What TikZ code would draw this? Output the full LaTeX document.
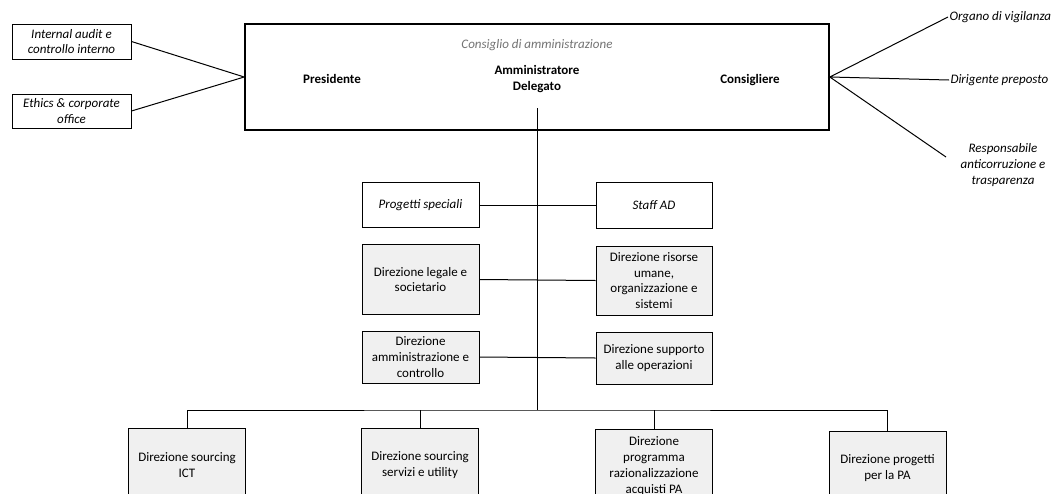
\documentclass[tikz,border=0pt]{standalone}
\usepackage{fontspec}
\setmainfont{Carlito}
\begin{document}
\begin{tikzpicture}[x=1pt, y=-1pt, line width=1pt,
    txt/.style={align=center, inner sep=1pt, font=\fontsize{13}{15.8}\selectfont},
    txtit/.style={txt, font=\fontsize{13}{15.8}\selectfont\itshape},
    txtbf/.style={txt, font=\fontsize{13}{15.8}\selectfont\bfseries},
    box/.style={txt, draw, minimum width=117pt},
    boxit/.style={txtit, draw, minimum width=117pt},
    dir/.style={box, fill=gray!12}
  ]
    \clip (0,0) rectangle (1054,493);
    \fill[white] (0,0) rectangle (1054,493);

    % board
    \node[draw, line width=1.6pt, minimum width=584pt, minimum height=106pt] (cda) at (537,77) {};
    \node[txtit, text=gray!90!black] (cdat) at (537,45) {Consiglio di amministrazione};
    \node[txtbf] (pres) at (332,79) {Presidente};
    \node[txtbf] (ad) at (537,79) {Amministratore\\Delegato};
    \node[txtbf] (cons) at (750,80) {Consigliere};

    % control bodies
    \node[boxit, minimum width=119pt, minimum height=35pt] (audit) at (71.5,41.5) {Internal audit e\\controllo interno};
    \node[boxit, minimum width=119pt, minimum height=34pt] (ethics) at (71.5,111) {Ethics \& corporate\\office};
    \node[txtit, anchor=west] (odv) at (948,17) {Organo di vigilanza};
    \node[txtit, anchor=west] (dp) at (949,80) {Dirigente preposto};
    \node[txtit] (rac) at (1003,165) {Responsabile\\anticorruzione e\\trasparenza};
    \coordinate (racend) at (946,157);

    \draw (audit.east) -- (cda.west) -- (ethics.east);
    \draw (odv.west) -- (cda.east) -- (dp.west);
    \draw (cda.east) -- (racend);

    % staff of the AD
    \node[boxit, minimum height=45pt] (ps) at (420.5,205) {Progetti speciali};
    \node[boxit, minimum width=116pt, minimum height=46pt] (staff) at (654,205) {Staff AD};
    \node[dir, minimum height=70pt] (leg) at (420.5,279.5) {Direzione legale e\\societario};
    \node[dir, minimum width=116pt, minimum height=69pt] (hr) at (654,280.5) {Direzione risorse\\umane,\\organizzazione e\\sistemi};
    \node[dir, minimum height=52pt] (amm) at (420.5,357) {Direzione\\amministrazione e\\controllo};
    \node[dir, minimum width=116pt, minimum height=52pt] (ops) at (654,358) {Direzione supporto\\alle operazioni};

    \coordinate (spine) at (537,108);
    \coordinate (bus) at (537,410);
    \draw (spine) -- (bus);
    \draw (ps.east) -- (staff.west);
    \draw (leg.east) -- (hr.west);
    \draw (amm.east) -- (ops.west);

    % line directions
    \node[dir, minimum height=74pt] (ict) at (187,465) {Direzione sourcing\\ICT};
    \node[dir, minimum height=74pt] (srv) at (420,465) {Direzione sourcing\\servizi e utility};
    \node[dir, minimum height=74pt] (prog) at (654,466) {Direzione\\programma\\razionalizzazione\\acquisti PA};
    \node[dir, minimum height=74pt] (pa) at (887.5,468) {Direzione progetti\\per la PA};

    \draw (ict.north) |- (bus) -| (pa.north);
    \draw (srv.north) -- (srv.north |- bus);
    \draw (prog.north) -- (prog.north |- bus);
\end{tikzpicture}
\end{document}
